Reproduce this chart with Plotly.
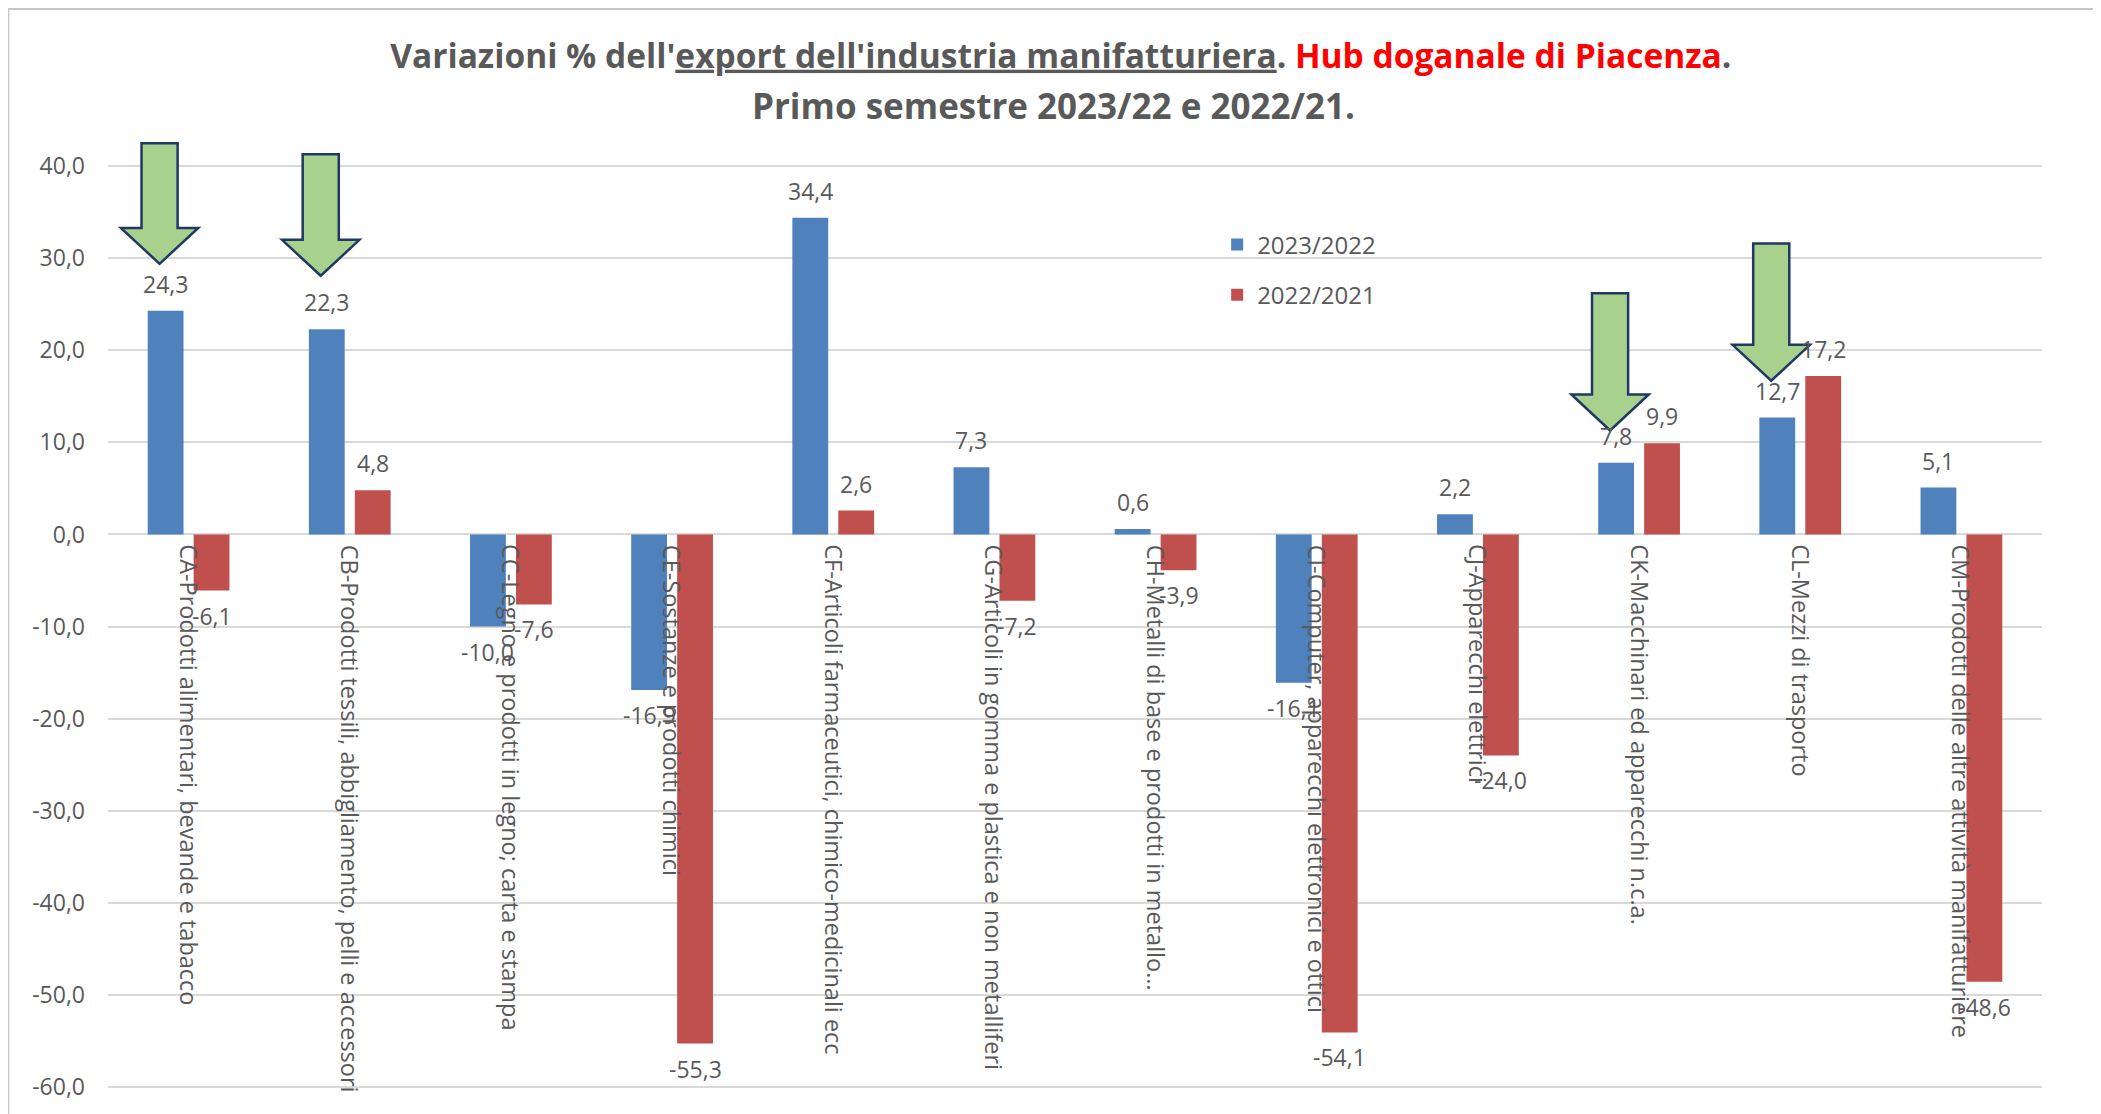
"""Variazioni % dell'export manifatturiero - Hub doganale di Piacenza."""

import plotly.graph_objects as go

COR_BLU = "#4F81BD"
COR_ROSSO = "#C0504D"
COR_TESTO = "#595959"
COR_GRIGLIA = "#D9D9D9"
FONT = "Open Sans"

categorie = [
    "CA-Prodotti alimentari, bevande e tabacco",
    "CB-Prodotti tessili, abbigliamento, pelli e accessori",
    "CC-Legno e prodotti in legno; carta e stampa",
    "CE-Sostanze e prodotti chimici",
    "CF-Articoli farmaceutici, chimico-medicinali ecc",
    "CG-Articoli in gomma e plastica e non metalliferi",
    "CH-Metalli di base e prodotti in metallo…",
    "CI-Computer, apparecchi elettronici e ottici",
    "CJ-Apparecchi elettrici",
    "CK-Macchinari ed apparecchi n.c.a.",
    "CL-Mezzi di trasporto",
    "CM-Prodotti delle altre attività manifatturiere",
]
var_2023_2022 = [24.3, 22.3, -10.0, -16.9, 34.4, 7.3, 0.6, -16.1, 2.2, 7.8, 12.7, 5.1]
var_2022_2021 = [-6.1, 4.8, -7.6, -55.3, 2.6, -7.2, -3.9, -54.1, -24.0, 9.9, 17.2, -48.6]
serie = [("2023/2022", var_2023_2022, COR_BLU), ("2022/2021", var_2022_2021, COR_ROSSO)]

tick_valori = [-60, -50, -40, -30, -20, -10, 0, 10, 20, 30, 40]
tick_testi = [f"{v:.1f}".replace(".", ",") for v in tick_valori]

# frecce verdi: indice categoria, punta e cima (valori dell'asse y)
frecce = [(0, 29.4, 42.5), (1, 28.1, 41.3), (9, 11.3, 26.2), (10, 16.7, 31.6)]


def fmt(v):
    return f"{v:.1f}".replace(".", ",")


posizioni = list(range(len(categorie)))
fig = go.Figure()
for nome, valori, colore in serie:
    fig.add_trace(
        go.Bar(
            x=posizioni,
            y=valori,
            name=nome,
            legendgroup=nome,
            marker=dict(color=colore, line=dict(width=0)),
            hoverinfo="skip",
        )
    )

# etichette dei dati
scarto = 0.143
for k, (nome, valori, colore) in enumerate(serie):
    dx = -scarto if k == 0 else scarto
    for i, v in enumerate(valori):
        fig.add_annotation(
            x=i + dx, y=v, text=fmt(v), showarrow=False,
            yshift=27 if v >= 0 else -25,
            font=dict(family=FONT, size=23, color=COR_TESTO),
        )

# etichette di categoria verticali, vicino all'asse
for i, nome in enumerate(categorie):
    fig.add_annotation(
        x=i, y=0, text=nome, textangle=90, showarrow=False,
        xanchor="center", yanchor="top", yshift=-8,
        font=dict(family=FONT, size=23.5, color=COR_TESTO),
    )

# frecce verdi sopra le barre blu
for i, punta, cima in frecce:
    xc = i - 0.18
    base = punta + 3.9
    path = (
        f"M {xc - 0.112},{cima} L {xc + 0.112},{cima} L {xc + 0.112},{base} "
        f"L {xc + 0.24},{base} L {xc},{punta} L {xc - 0.24},{base} "
        f"L {xc - 0.112},{base} Z"
    )
    fig.add_shape(
        type="path", path=path, xref="x", yref="y",
        fillcolor="#A9D18E", line=dict(color="#1F3864", width=2.5),
    )

# bordo dell'area del grafico
fig.add_shape(
    type="rect", xref="paper", yref="paper",
    x0=-0.0515, x1=1.027, y0=-0.03, y1=1.13,
    line=dict(color="#C8C8C8", width=2), fillcolor="rgba(0,0,0,0)",
)

fig.add_annotation(
    xref="paper", yref="paper", x=0.489, y=1.03,
    text="<b>Primo semestre 2023/22 e 2022/21.</b>", showarrow=False,
    xanchor="center", yanchor="middle",
    font=dict(family=FONT, size=35, color=COR_TESTO),
)

fig.update_layout(
    title=dict(
        text=(
            "<b>Variazioni % dell'<u>export dell'industria manifatturiera</u>. "
            "<span style='color:#FF0000'>Hub doganale di Piacenza</span>.</b>"
        ),
        x=0.503, xanchor="center", y=1 - 48 / 1106, yanchor="middle",
        font=dict(family=FONT, size=33.5, color=COR_TESTO),
    ),
    barmode="group",
    bargap=0.43,
    bargroupgap=0.22,
    width=2093,
    height=1106,
    margin=dict(l=100, r=59, t=126, b=18),
    paper_bgcolor="white",
    plot_bgcolor="white",
    showlegend=True,
    legend=dict(
        x=0.5735, y=0.908, xanchor="left", yanchor="top",
        font=dict(family=FONT, size=24, color=COR_TESTO),
        tracegroupgap=16, bgcolor="rgba(0,0,0,0)",
    ),
)
fig.update_xaxes(range=[-0.5, 11.5], showticklabels=False, showgrid=False, zeroline=False)
fig.update_yaxes(
    range=[-61, 43.5], tickvals=tick_valori, ticktext=tick_testi,
    showgrid=True, gridcolor=COR_GRIGLIA, gridwidth=2, zeroline=False,
    ticklabelstandoff=22,
    tickfont=dict(family=FONT, size=23, color=COR_TESTO),
)

fig.write_html("out.html")
